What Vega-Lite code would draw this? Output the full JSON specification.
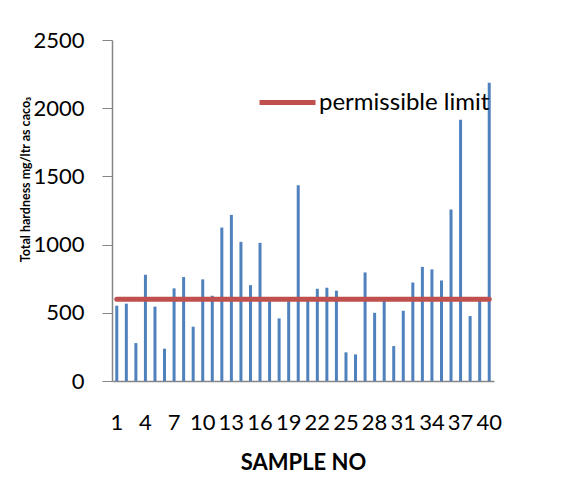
{
  "$schema": "https://vega.github.io/schema/vega-lite/v6.json",
  "autosize": {"type": "none"},
  "width": 382,
  "height": 341,
  "padding": {"left": 112, "top": 40, "right": 94, "bottom": 109},
  "background": "#ffffff",
  "config": {
    "font": "Lato",
    "view": {"stroke": null},
    "axis": {"grid": false, "labelFont": "Lato", "titleFont": "Lato", "labelColor": "#000000", "titleColor": "#000000"}
  },
  "data": {
    "values": [
      {"sample": 1, "hardness": 552, "limit": 600},
      {"sample": 2, "hardness": 567, "limit": 600},
      {"sample": 3, "hardness": 278, "limit": 600},
      {"sample": 4, "hardness": 779, "limit": 600},
      {"sample": 5, "hardness": 545, "limit": 600},
      {"sample": 6, "hardness": 237, "limit": 600},
      {"sample": 7, "hardness": 679, "limit": 600},
      {"sample": 8, "hardness": 762, "limit": 600},
      {"sample": 9, "hardness": 398, "limit": 600},
      {"sample": 10, "hardness": 745, "limit": 600},
      {"sample": 11, "hardness": 625, "limit": 600},
      {"sample": 12, "hardness": 1125, "limit": 600},
      {"sample": 13, "hardness": 1218, "limit": 600},
      {"sample": 14, "hardness": 1020, "limit": 600},
      {"sample": 15, "hardness": 703, "limit": 600},
      {"sample": 16, "hardness": 1013, "limit": 600},
      {"sample": 17, "hardness": 585, "limit": 600},
      {"sample": 18, "hardness": 459, "limit": 600},
      {"sample": 19, "hardness": 585, "limit": 600},
      {"sample": 20, "hardness": 1435, "limit": 600},
      {"sample": 21, "hardness": 595, "limit": 600},
      {"sample": 22, "hardness": 676, "limit": 600},
      {"sample": 23, "hardness": 684, "limit": 600},
      {"sample": 24, "hardness": 662, "limit": 600},
      {"sample": 25, "hardness": 210, "limit": 600},
      {"sample": 26, "hardness": 195, "limit": 600},
      {"sample": 27, "hardness": 796, "limit": 600},
      {"sample": 28, "hardness": 500, "limit": 600},
      {"sample": 29, "hardness": 590, "limit": 600},
      {"sample": 30, "hardness": 256, "limit": 600},
      {"sample": 31, "hardness": 515, "limit": 600},
      {"sample": 32, "hardness": 722, "limit": 600},
      {"sample": 33, "hardness": 837, "limit": 600},
      {"sample": 34, "hardness": 818, "limit": 600},
      {"sample": 35, "hardness": 737, "limit": 600},
      {"sample": 36, "hardness": 1257, "limit": 600},
      {"sample": 37, "hardness": 1916, "limit": 600},
      {"sample": 38, "hardness": 476, "limit": 600},
      {"sample": 39, "hardness": 590, "limit": 600},
      {"sample": 40, "hardness": 2187, "limit": 600}
    ]
  },
  "encoding": {
    "x": {
      "field": "sample",
      "type": "ordinal",
      "sort": "ascending",
      "scale": {"paddingInner": 0, "paddingOuter": 0},
      "axis": {
        "title": "SAMPLE NO",
        "values": [1, 4, 7, 10, 13, 16, 19, 22, 25, 28, 31, 34, 37, 40],
        "labelAngle": 0,
        "labelFontSize": 22,
        "labelPadding": 31,
        "ticks": false,
        "domainColor": "#868686",
        "domainWidth": 1.5,
        "titleFontSize": 22,
        "titleFontWeight": "bold",
        "titlePadding": 19
      }
    }
  },
  "layer": [
    {
      "mark": {"type": "bar", "color": "#4F81BD", "size": 3},
      "encoding": {
        "y": {
          "field": "hardness",
          "type": "quantitative",
          "scale": {"domain": [0, 2500], "nice": false},
          "axis": {
            "title": "Total hardness mg/ltr as caco₃",
            "values": [0, 500, 1000, 1500, 2000, 2500],
            "format": "d",
            "labelFontSize": 22,
            "labelPadding": 18,
            "tickSize": 10,
            "tickColor": "#868686",
            "domainColor": "#868686",
            "domainWidth": 1.5,
            "titleFontSize": 12.5,
            "titleFontWeight": "bold",
            "titleAngle": -90,
            "titleX": -87,
            "titleY": 139,
            "titleAlign": "center",
            "titleBaseline": "middle"
          }
        }
      }
    },
    {
      "mark": {"type": "line", "strokeWidth": 5, "strokeCap": "round"},
      "encoding": {
        "y": {"field": "limit", "type": "quantitative"},
        "color": {
          "datum": "permissible limit",
          "scale": {"range": ["#C0504D"]},
          "legend": {
            "title": null,
            "orient": "none",
            "legendX": 145,
            "legendY": 32,
            "padding": 0,
            "symbolType": "stroke",
            "symbolSize": 3136,
            "symbolStrokeWidth": 5,
            "labelFontSize": 24,
            "labelFont": "Lato",
            "labelColor": "#000000",
            "labelOffset": 1,
            "labelLimit": 400
          }
        }
      }
    }
  ]
}
